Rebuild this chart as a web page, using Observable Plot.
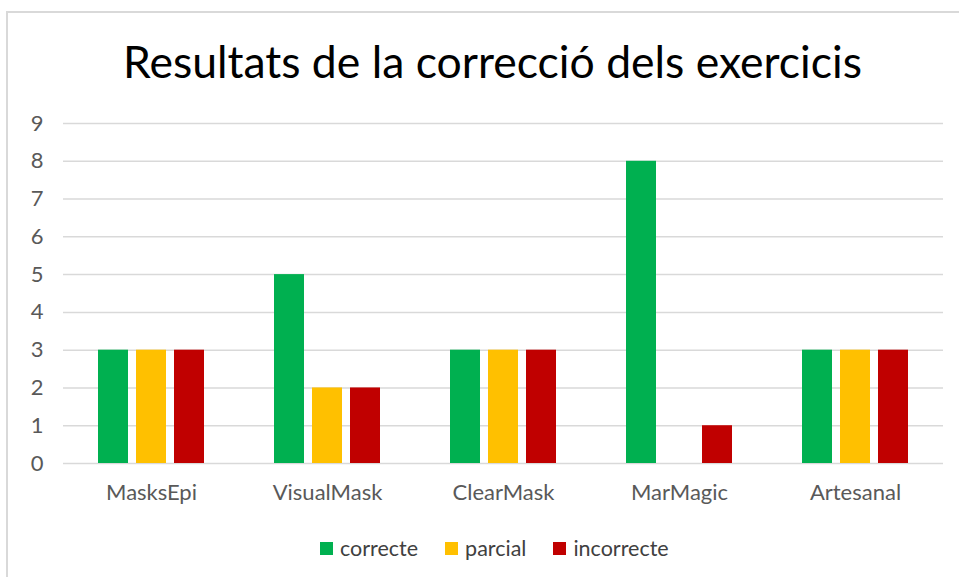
<!DOCTYPE html>
<html>
<head>
<meta charset="utf-8">
<script src="https://cdn.jsdelivr.net/npm/d3@7"></script>
<script src="https://cdn.jsdelivr.net/npm/@observablehq/plot@0.6"></script>
<style>
  html, body { margin: 0; padding: 0; background: #fff; }
  body { width: 959px; height: 577px; position: relative; overflow: hidden; font-family: Lato, "Open Sans", sans-serif; }
  #frame { position: absolute; left: 6px; top: 11px; width: 1000px; height: 600px; border-left: 2px solid #d9d9d9; border-top: 2px solid #d9d9d9; box-sizing: border-box; }
  #chart { position: absolute; left: 0; top: 0; }
  #chart svg text { font-size: 22px; fill: #595959; }
  #title { position: absolute; left: 26px; width: 933px; top: 36px; text-align: center; font-size: 44.5px; color: #000; line-height: 50px; }
  #legend { position: absolute; top: 535px; left: 320px; display: flex; align-items: center; font-size: 21.5px; color: #404040; line-height: 26px; }
  #legend .item { display: flex; align-items: center; margin-right: 27px; }
  #legend .sw { width: 13px; height: 13px; margin-right: 7px; }
</style>
</head>
<body>
<div id="frame"></div>
<div id="chart"></div>
<div id="title">Resultats de la correcció dels exercicis</div>
<div id="legend"></div>
<script>
const categories = ["MasksEpi", "VisualMask", "ClearMask", "MarMagic", "Artesanal"];
const series = ["correcte", "parcial", "incorrecte"];
const correcte = [3, 5, 3, 8, 3];
const parcial = [3, 2, 3, 0, 3];
const incorrecte = [3, 2, 3, 1, 3];
const yTicks = [0, 1, 2, 3, 4, 5, 6, 7, 8, 9];
const colors = ["#00B050", "#FFC000", "#C00000"];

const valuesBySeries = [correcte, parcial, incorrecte];
const data = categories.flatMap((c, i) =>
  series.map((s, j) => ({cat: c, s, v: valuesBySeries[j][i]}))
);

const chart = Plot.plot({
  width: 959,
  height: 520,
  marginLeft: 63,
  marginRight: 16,
  marginTop: 123,
  marginBottom: 57,
  style: {fontSize: "22px", fontFamily: "Lato, 'Open Sans', sans-serif", color: "#595959", background: "transparent"},
  fx: {domain: categories, padding: 0, label: null, tickSize: 0, tickPadding: 21, axis: "bottom"},
  x: {domain: series, paddingInner: 0.2, paddingOuter: 0.86, axis: null},
  y: {domain: [0, 9], ticks: yTicks, tickSize: 0, tickPadding: 20, label: null, tickFormat: d3.format("d")},
  color: {domain: series, range: colors},
  marks: [
    Plot.ruleY(yTicks, {stroke: "#d9d9d9", strokeWidth: 1.5}),
    Plot.barY(data, {fx: "cat", x: "s", y: "v", fill: "s"})
  ]
});
document.getElementById("chart").appendChild(chart);

const legend = document.getElementById("legend");
series.forEach((s, i) => {
  const item = document.createElement("div");
  item.className = "item";
  const sw = document.createElement("div");
  sw.className = "sw";
  sw.style.background = colors[i];
  const lab = document.createElement("span");
  lab.textContent = s;
  item.appendChild(sw);
  item.appendChild(lab);
  legend.appendChild(item);
});
</script>
</body>
</html>
